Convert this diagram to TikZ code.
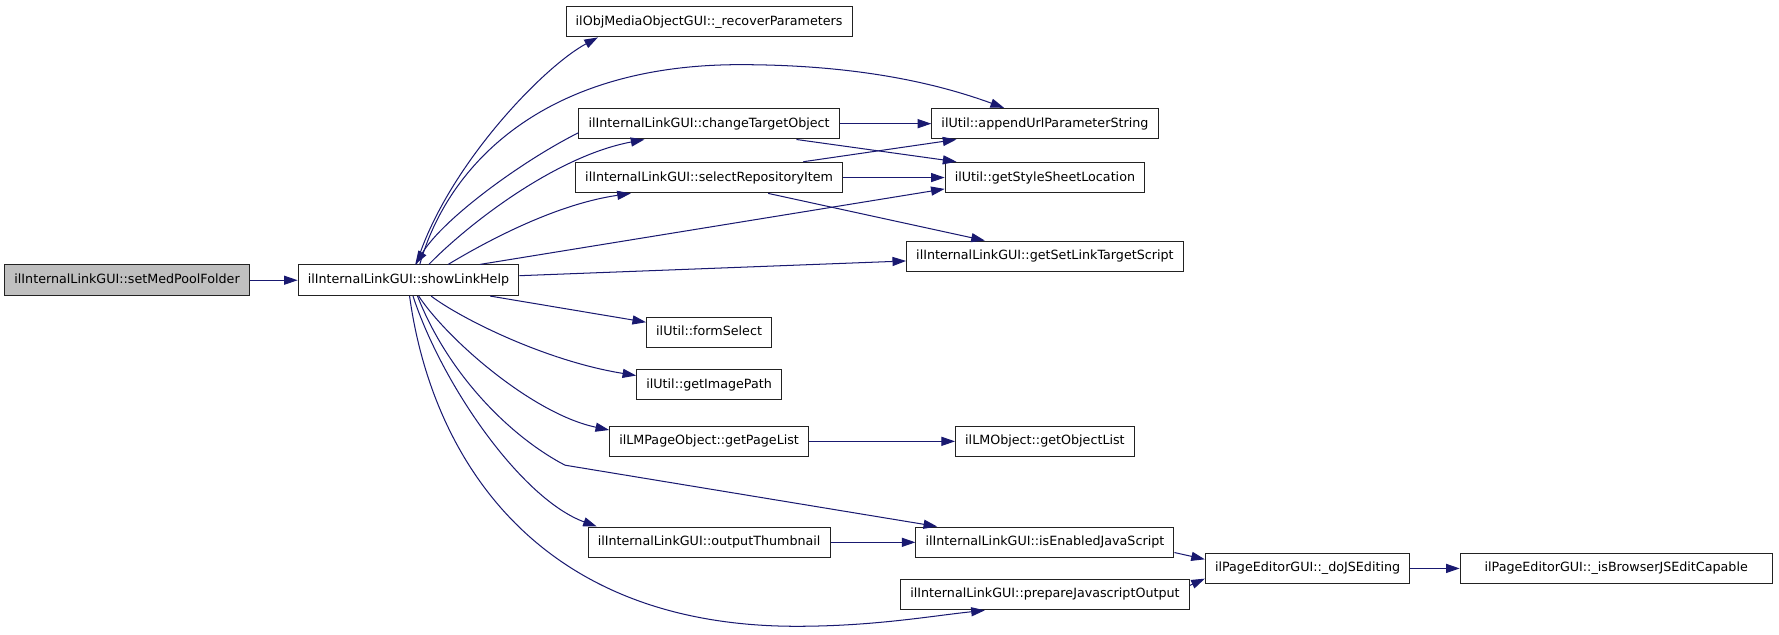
\documentclass[tikz,border=0pt]{standalone}
\usepackage{fontspec}
\setmainfont{DejaVu Sans}
\usetikzlibrary{arrows.meta}
\definecolor{edgeblue}{HTML}{191970}
\definecolor{boxline}{HTML}{222222}
\begin{document}
\begin{tikzpicture}[x=1pt,y=-1pt,
  fn/.style={draw=boxline, line width=0.9pt, fill=white, minimum height=27pt, inner xsep=8.5pt, inner ysep=0pt,
    font=\fontsize{11.2}{13}\selectfont, text height=8.4pt, text depth=2.3pt},
  rootfn/.style={fn, fill=black!25},
  edge/.style={draw=edgeblue, line width=0.9pt, -{Triangle[length=12pt,width=8pt]}}
]
\useasboundingbox (0,0) rectangle (1568,559);

\node[rootfn] (N0) at (112,247) {ilInternalLinkGUI::setMedPoolFolder};
\node[fn] (N1) at (360,247) {ilInternalLinkGUI::showLinkHelp};
\node[fn] (N2) at (625,19) {ilObjMediaObjectGUI::\_recoverParameters};
\node[fn] (N3) at (625,109) {ilInternalLinkGUI::changeTargetObject};
\node[fn] (N4) at (625,156.5) {ilInternalLinkGUI::selectRepositoryItem};
\node[fn] (N5) at (921,109) {ilUtil::appendUrlParameterString};
\node[fn] (N6) at (921,156.5) {ilUtil::getStyleSheetLocation};
\node[fn] (N7) at (921,226) {ilInternalLinkGUI::getSetLinkTargetScript};
\node[fn] (N8) at (625,293) {ilUtil::formSelect};
\node[fn] (N9) at (625,339) {ilUtil::getImagePath};
\node[fn] (N10) at (625,389) {ilLMPageObject::getPageList};
\node[fn] (N11) at (921,389) {ilLMObject::getObjectList};
\node[fn] (N12) at (921,478) {ilInternalLinkGUI::isEnabledJavaScript};
\node[fn] (N13) at (625,478) {ilInternalLinkGUI::outputThumbnail};
\node[fn] (N14) at (921,524) {ilInternalLinkGUI::prepareJavascriptOutput};
\node[fn] (N15) at (1152.5,501) {ilPageEditorGUI::\_doJSEditing};
\node[fn, minimum width=275pt] (N16) at (1424.5,501) {ilPageEditorGUI::\_isBrowserJSEditCapable};

\coordinate (k1) at (498,410);

\draw[edge] (N0.east) -- (N1.west);
\draw[edge] ([xshift=7pt]N1.north) .. controls (392,150) and (477,60) .. ([xshift=-98pt]N2.south);
\draw[edge] ([xshift=10pt]N1.north) .. controls (395,144.5) and (480,57) .. (652,57)
   .. controls (760,57) and (830,75) .. ([xshift=-36pt]N5.north);
\draw[edge] ([yshift=-8pt]N3.west) .. controls (460,142) and (391,192.5) .. ([xshift=6pt]N1.north);
\draw[edge] ([xshift=18pt]N1.north) .. controls (410,200) and (488,138) .. ([xshift=-57pt]N3.south);
\draw[edge] ([xshift=35pt]N1.north) .. controls (430,212) and (490,180) .. ([xshift=-69pt]N4.south);
\draw[edge] ([xshift=63pt]N1.north) -- ([yshift=-10pt]N6.west);
\draw[edge] ([yshift=4pt]N1.east) -- ([yshift=-4pt]N7.west);
\draw[edge] ([xshift=72pt]N1.south) -- ([yshift=9pt]N8.west);
\draw[edge] ([xshift=20pt]N1.south) .. controls (405,280) and (480,318) .. ([yshift=8pt]N9.west);
\draw[edge] ([xshift=9pt]N1.south) .. controls (395,300) and (470,365) .. ([yshift=10pt]N10.west);
\draw[edge] ([xshift=8pt]N1.south) .. controls (395,330) and (450,385) .. (k1) -- ([xshift=-95pt]N12.north);
\draw[edge] ([xshift=4pt]N1.south) .. controls (390,340) and (460,440) .. ([xshift=-99pt]N13.north);
\draw[edge] ([xshift=1pt]N1.south) .. controls (380,400) and (470,552) .. (702,552)
   .. controls (770,552) and (820,543) .. ([xshift=-53pt]N14.south);
\draw[edge] (N3.east) -- (N5.west);
\draw[edge] ([xshift=77pt]N3.south) -- ([xshift=-78pt]N6.north);
\draw[edge] ([xshift=83pt]N4.north) -- ([xshift=-78pt]N5.south);
\draw[edge] (N4.east) -- (N6.west);
\draw[edge] ([xshift=52pt]N4.south) -- ([xshift=-53pt]N7.north);
\draw[edge] (N10.east) -- (N11.west);
\draw[edge] (N13.east) -- (N12.west);
\draw[edge] ([yshift=-9pt]N12.east) -- ([yshift=8pt]N15.west);
\draw[edge] ([yshift=8pt]N14.east) -- ([yshift=-9pt]N15.west);
\draw[edge] (N15.east) -- (N16.west);
\end{tikzpicture}
\end{document}
